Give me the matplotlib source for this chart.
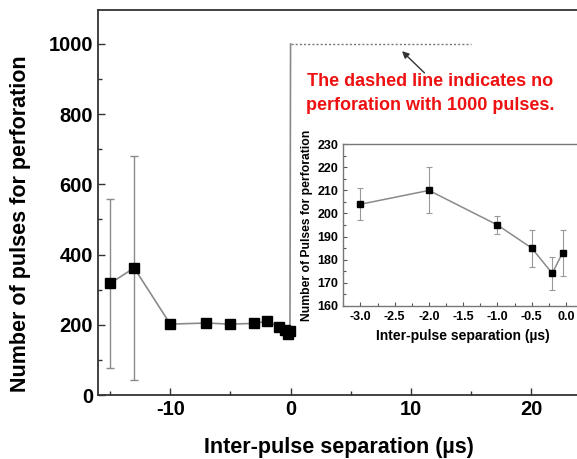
import matplotlib
matplotlib.use("Agg")
import matplotlib.pyplot as plt
from matplotlib.ticker import MultipleLocator

plt.rcParams['font.family'] = ['Liberation Sans', 'DejaVu Sans']
plt.rcParams['font.weight'] = 'bold'
plt.rcParams['axes.unicode_minus'] = False

# main panel data (inter-pulse separation in us, pulses needed)
sep = [-15, -13, -10, -7, -5, -3, -2, -1, -0.5, -0.2, -0.05]
pulses = [318, 362, 202, 205, 202, 204, 210, 195, 185, 174, 183]
err = [240, 320, 5, 5, 5, 7, 10, 4, 8, 7, 10]

# no perforation with 1000 pulses for positive separation
no_perf_x = [0, 15]
no_perf_y = [1000, 1000]

# inset data
sep_in = [-3, -2, -1, -0.5, -0.2, -0.05]
pulses_in = [204, 210, 195, 185, 174, 183]
err_in = [7, 10, 4, 8, 7, 10]

line_c = '#8a8a8a'
spine_c = '#333333'

fig = plt.figure(figsize=(5.77, 4.59), dpi=100)
ax = fig.add_axes([0.170, 0.1394, 0.8652, 0.839])

ax.errorbar(sep, pulses, yerr=err, fmt='none', ecolor=line_c, elinewidth=1, capsize=3, capthick=1)
ax.plot(sep, pulses, '-', color=line_c, lw=1.2)
ax.plot([sep[-1], 0], [pulses[-1], 1000], '-', color=line_c, lw=1.2)
ax.plot(no_perf_x, no_perf_y, linestyle=(0, (1.5, 1.5)), color='#777777', lw=1)
ax.plot(sep, pulses, 's', color='black', ms=7, zorder=5)

ax.set_xlim(-16, 25.5)
ax.set_ylim(0, 1097)
ax.xaxis.set_major_locator(MultipleLocator(10))
ax.xaxis.set_minor_locator(MultipleLocator(5))
ax.yaxis.set_major_locator(MultipleLocator(200))
ax.yaxis.set_minor_locator(MultipleLocator(100))
ax.tick_params(which='both', direction='in', width=1, colors=spine_c, labelcolor='black', labelsize=14.5)
ax.tick_params(which='major', length=5)
ax.tick_params(which='minor', length=3)
for s in ax.spines.values():
    s.set_color(spine_c)
    s.set_linewidth(1.3)
ax.set_xlabel('Inter-pulse separation (\u00b5s)', fontsize=15.5, fontweight='bold', va='center')
ax.set_ylabel('Number of pulses for perforation', fontsize=15.5, fontweight='bold', va='center')
ax.xaxis.set_label_coords(0.483, -0.135)
ax.yaxis.set_label_coords(-0.156, 0.444)

ax.annotate('', xy=(9.1, 985), xytext=(11.3, 912),
            arrowprops=dict(arrowstyle='-|>', color='#333333', lw=1, mutation_scale=10))
ax.text(11.6, 859, 'The dashed line indicates no\nperforation with 1000 pulses.',
        color='#ee1111', fontsize=13, fontweight='bold', ha='center', va='center',
        linespacing=1.55)

# inset
axi = fig.add_axes([0.595, 0.334, 0.4156, 0.3516])
axi.errorbar(sep_in, pulses_in, yerr=err_in, fmt='none', ecolor='#999999', elinewidth=0.8, capsize=2, capthick=0.8)
axi.plot(sep_in, pulses_in, '-', color=line_c, lw=1.1)
axi.plot(sep_in, pulses_in, 's', color='black', ms=4.5, zorder=5)
axi.set_xlim(-3.25, 0.25)
axi.set_ylim(160, 230)
axi.xaxis.set_major_locator(MultipleLocator(0.5))
axi.xaxis.set_minor_locator(MultipleLocator(0.25))
axi.yaxis.set_major_locator(MultipleLocator(10))
axi.yaxis.set_minor_locator(MultipleLocator(5))
axi.tick_params(which='both', direction='in', width=0.8, colors='#555555', labelcolor='black', labelsize=9)
axi.tick_params(which='major', length=3)
axi.tick_params(which='minor', length=2)
for s in axi.spines.values():
    s.set_color('#777777')
    s.set_linewidth(1)
axi.set_xlabel('Inter-pulse separation (\u00b5s)', fontsize=10, fontweight='bold', labelpad=5)
axi.set_ylabel('Number of Pulses for perforation', fontsize=8.7, fontweight='bold', labelpad=3)

fig.savefig('out.png', dpi=100)
